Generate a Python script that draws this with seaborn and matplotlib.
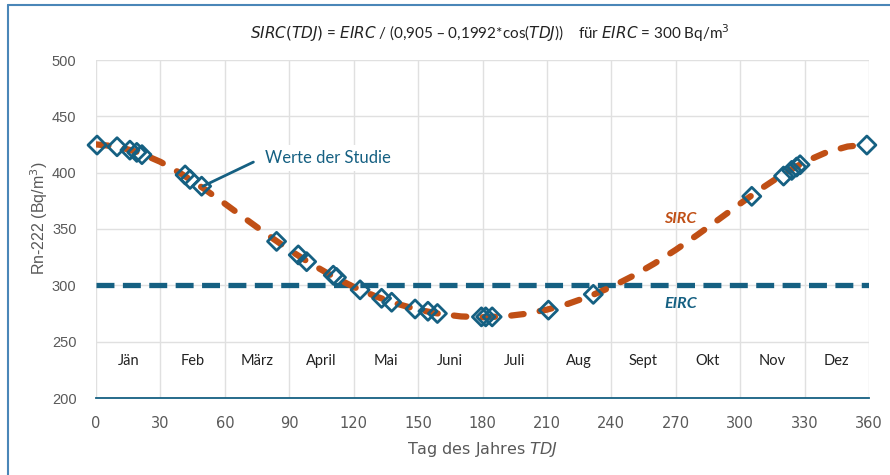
import numpy as np
import pandas as pd
import matplotlib
matplotlib.use("Agg")
import matplotlib.pyplot as plt
import seaborn as sns

# ---- data ----
curve_days = [0, 10, 20, 30, 40, 50, 60, 70, 80, 90, 100, 110, 120, 130, 140, 150, 160, 170, 180,
              190, 200, 210, 220, 230, 240, 250, 260, 270, 280, 290, 300, 310, 320, 330, 340, 350, 360]
sirc_values = [425.1, 423.2, 417.9, 409.6, 398.7, 386.1, 372.5, 358.5, 344.7, 331.5, 319.3, 308.3,
               298.6, 290.4, 283.7, 278.4, 274.7, 272.4, 271.7, 272.4, 274.7, 278.4, 283.7, 290.4,
               298.6, 308.3, 319.3, 331.5, 344.7, 358.5, 372.5, 386.1, 398.7, 409.6, 417.9, 423.2, 425.1]
eirc_days = [0, 360]
eirc_values = [300, 300]
study_days = [0.5, 9.8, 15.8, 19, 21.4, 41.5, 43.8, 49.2, 84.1, 94.2, 98.1, 110.5, 112, 123, 133,
              137.7, 148.6, 154.6, 159, 179.5, 181.5, 184.5, 210.7, 231.6, 305.4, 320.2, 324, 326.3,
              327.9, 359]
study_values = [424.5, 423, 420, 418, 416, 398, 394, 388, 339, 327, 321, 309, 307, 296, 288.5,
                285, 279, 277, 275, 272, 272, 272, 278, 292, 379, 397, 402, 405, 407, 424.5]
month_labels = ["Jän", "Feb", "März", "April", "Mai", "Juni", "Juli", "Aug", "Sept", "Okt", "Nov", "Dez"]
month_days = [15, 45, 75, 105, 135, 165, 195, 225, 255, 285, 315, 345]
month_label_value = 233
x_ticks = list(range(0, 361, 30))
y_ticks = list(range(200, 501, 50))

ORANGE = "#C04F15"
BLUE = "#156082"
GREY = "#595959"

sns.set_theme(style="white")
plt.rcParams['font.family'] = ['Lato', 'DejaVu Sans']

fig = plt.figure(figsize=(8.9, 4.75), dpi=100)
ax = fig.add_axes([96/890, 1-398/475, (869-96)/890, (398-60)/475])

curve_df = pd.DataFrame({"TDJ": curve_days, "SIRC": sirc_values})
eirc_df = pd.DataFrame({"TDJ": eirc_days, "EIRC": eirc_values})
study_df = pd.DataFrame({"TDJ": study_days, "Wert": study_values})

sns.lineplot(data=eirc_df, x="TDJ", y="EIRC", color=BLUE, linewidth=3.8, ax=ax, zorder=3)
ln_e = ax.lines[-1]
ln_e.set_dashes([3.4, 1.6])
ln_e.set_dash_capstyle("butt")

sns.lineplot(data=curve_df, x="TDJ", y="SIRC", color=ORANGE, linewidth=4.5, ax=ax, zorder=4)
ln_s = ax.lines[-1]
ln_s.set_dashes([2.0, 2.6])
ln_s.set_dash_capstyle("round")

sns.scatterplot(data=study_df, x="TDJ", y="Wert", marker="D", s=85, facecolor="none",
                edgecolor=BLUE, linewidth=2.0, ax=ax, zorder=5, clip_on=False)

ax.set_xlim(0, 360)
ax.set_ylim(200, 500)
ax.set_xticks(x_ticks)
ax.set_yticks(y_ticks)
ax.grid(True, color="#e0e0e0", linewidth=1.0)
ax.set_axisbelow(True)
for s in ["top", "right", "left"]:
    ax.spines[s].set_visible(False)
ax.spines["bottom"].set_color(BLUE)
ax.spines["bottom"].set_linewidth(1.3)
ax.tick_params(axis="both", length=0)
ax.tick_params(axis="x", pad=13, labelsize=10.5, labelcolor=GREY)
ax.tick_params(axis="y", pad=14, labelsize=10.5, labelcolor=GREY)
for lab in ax.get_xticklabels():
    lab.set_family(['Liberation Sans Narrow', 'DejaVu Sans'])
for lab in ax.get_yticklabels():
    lab.set_family(['Liberation Sans', 'DejaVu Sans'])

ax.set_xlabel("Tag des Jahres $\\it{TDJ}$", fontsize=11.5, color=GREY,
              family=['Liberation Sans Narrow', 'DejaVu Sans'])
ax.xaxis.set_label_coords(0.5, -(440-398)/338)
ax.set_ylabel("Rn-222 (Bq/m$^3$)", fontsize=11.5, color=GREY,
              family=['Liberation Sans', 'DejaVu Sans'])
ax.yaxis.set_label_coords(-(96-50)/773, (398-218)/338)

for d, m in zip(month_days, month_labels):
    ax.text(d, month_label_value, m, ha="center", va="center", fontsize=10.5, color="#222222")

ax.text(272, 359, "SIRC", color=ORANGE, fontsize=11.5, fontweight="bold", fontstyle="italic",
        ha="center", va="center")
ax.text(272.5, 283.5, "EIRC", color=BLUE, fontsize=11.5, fontweight="bold", fontstyle="italic",
        ha="center", va="center")

ax.annotate("", xy=(49.8, 388), xytext=(73.3, 409.4),
            arrowprops=dict(arrowstyle="-", color=BLUE, lw=2, shrinkA=0, shrinkB=0),
            zorder=6)
ax.text(78.5, 413, "Werte der Studie", color=BLUE, fontsize=12, ha="left", va="center",
        bbox=dict(boxstyle="square,pad=0.3", fc="white", ec="none"), zorder=6)

fig.text(0.55, 1-33/475,
         "$\\it{SIRC(TDJ)}$ = $\\it{EIRC}$ / (0,905 – 0,1992*cos($\\it{TDJ}$))    für $\\it{EIRC}$ = 300 Bq/m$^3$",
         ha="center", va="center", fontsize=11, color="#222222")

# outer frame (top and left edges)
fig.add_artist(plt.Line2D([7.5/890, 1], [1-5/475, 1-5/475], transform=fig.transFigure,
                          color="#4A86B8", lw=1.5))
fig.add_artist(plt.Line2D([7.5/890, 7.5/890], [0, 1-5/475], transform=fig.transFigure,
                          color="#4A86B8", lw=1.5))

fig.savefig("out.png", dpi=100)
